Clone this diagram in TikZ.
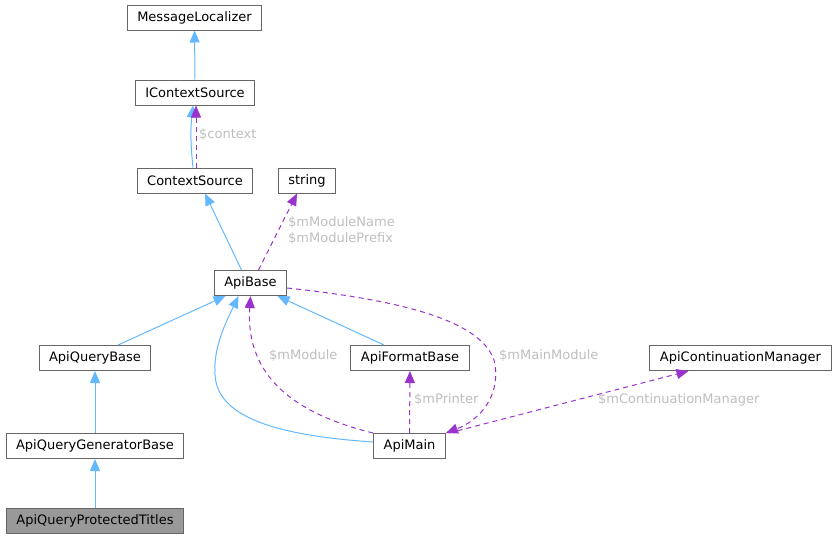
\documentclass[tikz,border=0pt]{standalone}
\usepackage{fontspec}
\setmainfont{DejaVu Sans}
\usetikzlibrary{arrows.meta}
\definecolor{inheritblue}{HTML}{63B8FF}
\definecolor{usepurple}{HTML}{9A32CD}
\definecolor{boxline}{HTML}{666666}
\definecolor{labelgrey}{HTML}{BEBEBE}
\definecolor{focusfill}{HTML}{999999}

\begin{document}
\begin{tikzpicture}[x=1pt, y=-1pt,
    cls/.style={rectangle, draw=boxline, line width=1pt, fill=white,
                minimum height=25pt, inner xsep=10pt, inner ysep=0pt,
                font=\fontsize{13}{16}\selectfont},
    focus/.style={cls, fill=focusfill},
    inherit/.style={-{Triangle[length=12pt, width=10pt]}, inheritblue, line width=1pt},
    usage/.style={-{Triangle[length=12pt, width=10pt]}, usepurple, line width=1pt,
                  dash pattern=on 5pt off 4pt},
    member/.style={text=labelgrey, font=\fontsize{13}{16}\selectfont,
                   anchor=west, inner sep=0pt, align=left}
  ]
    \useasboundingbox (0,0) rectangle (837,539);

    \node[cls] (msgloc) at (194.5,17.5) {MessageLocalizer};
    \node[cls] (ictx) at (195,92.5) {IContextSource};
    \node[cls] (ctxsrc) at (195,180.5) {ContextSource};
    \node[cls] (str) at (307,180.5) {string};
    \node[cls] (apibase) at (250.5,283) {ApiBase};
    \node[cls] (apiqb) at (95,358) {ApiQueryBase};
    \node[cls] (apifb) at (410,358) {ApiFormatBase};
    \node[cls] (apicm) at (740.5,358) {ApiContinuationManager};
    \node[cls] (apiqgb) at (95,446) {ApiQueryGeneratorBase};
    \node[cls] (apimain) at (409.5,446) {ApiMain};
    \node[focus] (apiqpt) at (95,520.5) {ApiQueryProtectedTitles};

    \draw[inherit] (ictx) -- (msgloc);
    \draw[inherit] ([xshift=-2pt]ctxsrc.north) to[bend left=6] ([xshift=-2pt]ictx.south);
    \draw[usage] ([xshift=1pt]ctxsrc.north) -- ([xshift=1pt]ictx.south);
    \node[member] (lctx) at (199,135) {\$context};

    \draw[inherit] ([xshift=-9pt]apibase.north) -- ([xshift=10pt]ctxsrc.south);
    \draw[usage] ([xshift=8pt]apibase.north) -- ([xshift=-10pt]str.south);
    \node[member] (lname) at (288,231) {\$mModuleName\\\$mModulePrefix};

    \draw[inherit] ([xshift=23pt]apiqb.north) -- ([xshift=-25pt]apibase.south);
    \draw[inherit] ([xshift=-26pt]apifb.north) -- ([xshift=27pt]apibase.south);
    \draw[inherit] (apiqgb) -- (apiqb);
    \draw[inherit] (apiqpt) -- (apiqgb);
    \draw[inherit] ([yshift=4pt]apimain.west) .. controls (270,435) and (213,415) .. (215,370)
        .. controls (214,345) and (228,318) .. ([xshift=-12pt]apibase.south);

    \draw[usage] (apimain.north west) .. controls (300,415) and (245,380) .. (apibase.south);
    \node[member] (lmodule) at (269,356) {\$mModule};
    \draw[usage] ([yshift=-5pt]apibase.east) .. controls (400,300) and (480,320) .. (494,360)
        .. controls (502,395) and (480,420) .. (apimain.north east);
    \node[member] (lmain) at (499,356) {\$mMainModule};

    \draw[usage] (apimain) -- (apifb);
    \node[member] (lprint) at (414,400) {\$mPrinter};
    \draw[usage] ([xshift=3pt]apimain.north east) -- ([xshift=-52pt]apicm.south);
    \node[member] (lcont) at (598,400) {\$mContinuationManager};
\end{tikzpicture}
\end{document}
